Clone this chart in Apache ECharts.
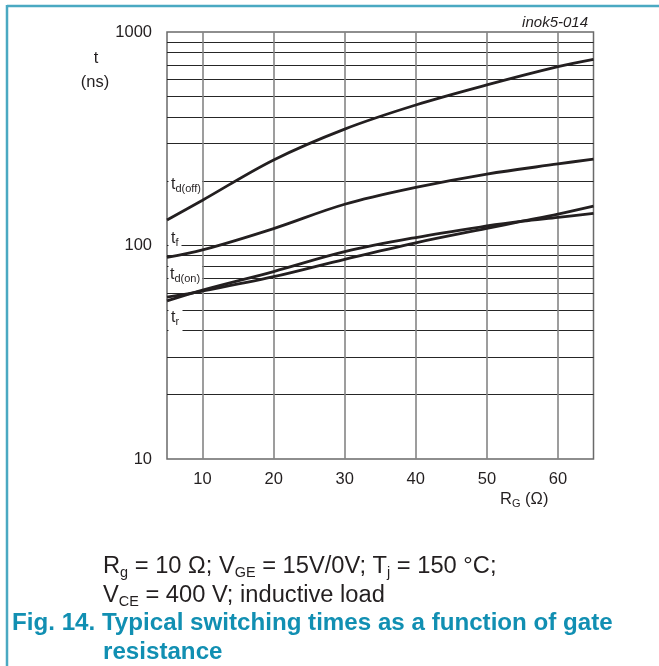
<!DOCTYPE html>
<html><head><meta charset="utf-8">
<script src="https://cdn.jsdelivr.net/npm/echarts@6/dist/echarts.min.js"></script>
<style>html,body{margin:0;padding:0;background:#fff}#c{width:659px;height:666px}</style>
</head><body><div id="c"></div>
<script>
// ---- data ----
const rgA = [5, 10, 20, 30, 40, 50, 60, 65];
const tdOff = [131.6, 163, 251.6, 351, 455, 565, 688, 745];
const tF = [88, 95.3, 120, 156, 187, 216, 241, 254];
const rgB = [5, 10, 20, 30, 40, 50, 55, 60, 65];
const tdOn = [55, 61.8, 75.5, 93.5, 109, 123.4, 130, 135.5, 141.5];
const tR = [57.3, 61.2, 71.4, 86.2, 103, 120.3, 130, 140.4, 153];
const xTickLabels = [10, 20, 30, 40, 50, 60];
const yTickLabels = [10, 100, 1000];
const hGridValues = [20, 30, 40, 50, 60, 70, 80, 90, 100, 200, 300, 400, 500, 600, 700, 800, 900];
const vGridValues = [10, 20, 30, 40, 50, 60];

const FONT = '"Liberation Sans", Arial, Helvetica, sans-serif';
const INK = '#231f20';
const TEAL = '#118fb2';

const chart = echarts.init(document.getElementById('c'), null, {renderer: 'canvas'});
const pairs = (xs, ys) => xs.map((x, i) => [x, ys[i]]);
const curve = (name, d) => ({
  name, type: 'line', data: d, smooth: 0.35, symbol: 'none', z: 4,
  lineStyle: {color: INK, width: 2.8}, silent: true
});
const subLbl = (x, y, main, sub, fs, sfs, pad, tail) => ({
  type: 'text', x, y, z: 6, silent: true,
  style: {
    text: '{m|' + main + '}' + (sub ? '{s|' + sub + '}' : '') + (tail ? '{m|' + tail + '}' : ''),
    verticalAlign: 'middle', align: 'left',
    rich: {
      m: {fontSize: fs, fontFamily: FONT, fill: INK, lineHeight: fs + 2},
      s: {fontSize: sfs, fontFamily: FONT, fill: INK, lineHeight: fs + 2, padding: [pad, 0, 0, 0]}
    }
  }
});
const box = (x, y, w, h) => ({type: 'rect', z: 2, silent: true, shape: {x, y, width: w, height: h}, style: {fill: '#fff'}});

chart.setOption({
  animation: false,
  backgroundColor: '#fff',
  grid: {left: 167, right: 65.5, top: 32, bottom: 207, show: true, borderColor: '#6a6a6a', borderWidth: 1.5, backgroundColor: 'transparent'},
  xAxis: {
    type: 'value', min: 5, max: 65, interval: 5,
    axisLine: {show: false}, axisTick: {show: false}, splitLine: {show: false},
    axisLabel: {
      margin: 12, fontSize: 16.5, fontFamily: FONT, color: INK,
      formatter: v => xTickLabels.indexOf(v) >= 0 ? String(v) : ''
    }
  },
  yAxis: {
    type: 'log', logBase: 10, min: 10, max: 1000,
    axisLine: {show: false}, axisTick: {show: false}, splitLine: {show: false}, minorTick: {show: false},
    axisLabel: {
      margin: 15, fontSize: 16.5, fontFamily: FONT, color: INK,
      formatter: v => yTickLabels.indexOf(Math.round(v)) >= 0 ? String(Math.round(v)) : ''
    }
  },
  series: [
    {type: 'line', data: [], silent: true, z: 1,
     markLine: {z: 1, silent: true, symbol: ['none', 'none'], label: {show: false}, animation: false,
       lineStyle: {color: '#262626', width: 1, type: 'solid'},
       emphasis: {disabled: true},
       data: hGridValues.map(v => ({yAxis: v}))}},
    {type: 'line', data: [], silent: true, z: 3,
     markLine: {z: 3, silent: true, symbol: ['none', 'none'], label: {show: false}, animation: false,
       lineStyle: {color: '#858585', width: 1.6, type: 'solid'},
       emphasis: {disabled: true},
       data: vGridValues.map(v => ({xAxis: v}))}},
    curve('td(off)', pairs(rgA, tdOff)),
    curve('tf', pairs(rgA, tF)),
    curve('td(on)', pairs(rgB, tdOn)),
    curve('tr', pairs(rgB, tR))
  ],
  graphic: [
    {type: 'line', z: 10, silent: true, shape: {x1: 7, y1: 6, x2: 659, y2: 6}, style: {stroke: '#4aa9c2', lineWidth: 2.5}},
    {type: 'line', z: 10, silent: true, shape: {x1: 7, y1: 5, x2: 7, y2: 666}, style: {stroke: '#4aa9c2', lineWidth: 2.5}},
    box(168.5, 170, 33.5, 27),
    box(168.5, 230, 13, 21),
    box(168.5, 258, 33.5, 30),
    box(168.5, 303, 14, 32),
    subLbl(171, 184.4, 't', 'd(off)', 16, 11, 10),
    subLbl(171, 238.4, 't', 'f', 16, 11, 10),
    subLbl(170, 274.4, 't', 'd(on)', 16, 11, 10),
    subLbl(171, 317.4, 't', 'r', 16, 11, 10),
    {type: 'text', x: 96, y: 58, z: 6, silent: true, style: {text: 't', align: 'center', verticalAlign: 'middle', font: '16.5px ' + FONT, fill: INK}},
    {type: 'text', x: 95, y: 82, z: 6, silent: true, style: {text: '(ns)', align: 'center', verticalAlign: 'middle', font: '16.5px ' + FONT, fill: INK}},
    {type: 'text', x: 588, y: 23, z: 6, silent: true, style: {text: 'inok5-014', align: 'right', verticalAlign: 'middle', font: 'italic 15px ' + FONT, fill: INK}},
    subLbl(500, 499, 'R', 'G', 16.5, 11, 10, ' (Ω)'),
    {type: 'text', x: 103, y: 567, z: 6, silent: true, scaleX: 1.03, style: {
      text: '{m|R}{s|g}{m| = 10 Ω; V}{s|GE}{m| = 15V/0V; T}{s|j}{m| = 150 °C;}',
      verticalAlign: 'middle', align: 'left',
      rich: {m: {fontSize: 23, fontFamily: FONT, fill: INK, lineHeight: 27},
             s: {fontSize: 14, fontFamily: FONT, fill: INK, lineHeight: 27, padding: [12, 0, 0, 0]}}}},
    {type: 'text', x: 103, y: 596, z: 6, silent: true, scaleX: 1.03, style: {
      text: '{m|V}{s|CE}{m| = 400 V; inductive load}',
      verticalAlign: 'middle', align: 'left',
      rich: {m: {fontSize: 23, fontFamily: FONT, fill: INK, lineHeight: 27},
             s: {fontSize: 14, fontFamily: FONT, fill: INK, lineHeight: 27, padding: [12, 0, 0, 0]}}}},
    {type: 'text', x: 12, y: 624, z: 6, silent: true, scaleX: 1.05, style: {text: 'Fig. 14. Typical switching times as a function of gate', align: 'left', verticalAlign: 'middle', font: 'bold 23px ' + FONT, fill: TEAL}},
    {type: 'text', x: 103, y: 653, z: 6, silent: true, scaleX: 1.05, style: {text: 'resistance', align: 'left', verticalAlign: 'middle', font: 'bold 23px ' + FONT, fill: TEAL}}
  ]
});
</script></body></html>
